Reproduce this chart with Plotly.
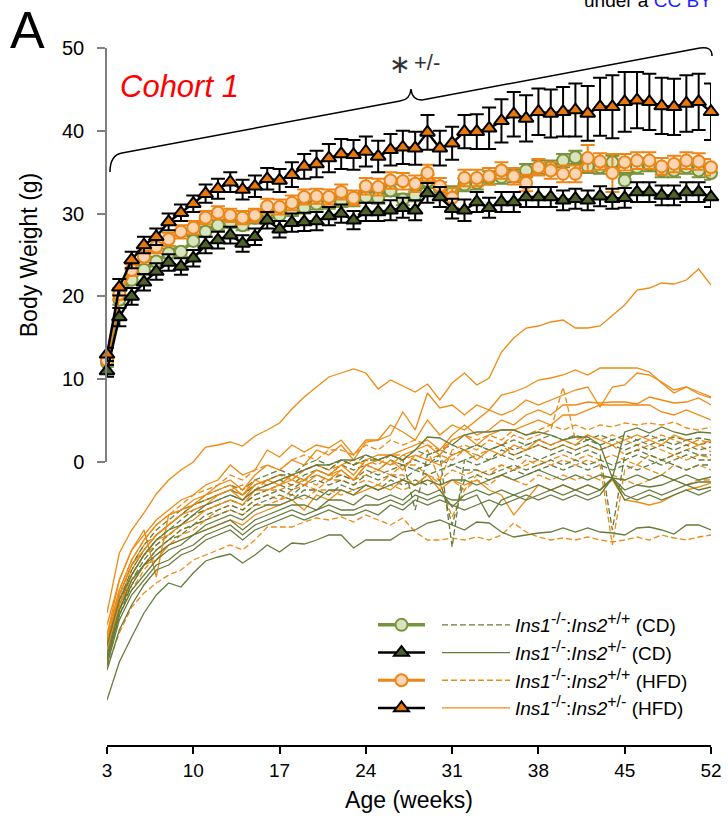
import plotly.graph_objects as go

# ---------------- data ----------------
weeks = list(range(3, 53))
x_ticks = [3, 10, 17, 24, 31, 38, 45, 52]
y_ticks = [0, 10, 20, 30, 40, 50]

# group means (g) and SEM
cd_wt_mean = [12.0, 19.6, 22.0, 23.2, 24.2, 25.2, 25.4, 26.7, 27.8, 28.6,
              28.9, 28.6, 29.5, 30.2, 29.8, 30.4, 30.7, 31.2, 31.3, 31.5,
              31.6, 32.0, 31.9, 32.8, 31.7, 32.2, 33.9, 33.0, 32.5, 33.5,
              33.7, 34.3, 34.4, 34.6, 35.2, 35.6, 35.6, 36.4, 36.8, 35.7,
              35.6, 36.2, 34.0, 35.6, 35.9, 35.2, 35.2, 35.6, 35.2, 34.9]
cd_wt_sem = [0.5, 0.6, 0.6, 0.6, 0.6, 0.6, 0.6, 0.6, 0.6, 0.6,
             0.6, 0.6, 0.7, 0.7, 0.7, 0.7, 0.7, 0.7, 0.7, 0.7,
             0.7, 0.7, 0.7, 0.7, 0.7, 0.7, 0.8, 0.8, 0.8, 0.8,
             0.8, 0.8, 0.8, 0.8, 0.8, 0.8, 0.8, 0.8, 0.8, 0.8,
             0.8, 0.8, 0.9, 0.8, 0.8, 0.8, 0.8, 0.8, 0.8, 0.8]

cd_het_mean = [11.0, 17.5, 20.0, 21.7, 23.0, 24.1, 23.6, 24.6, 26.2, 26.8,
               27.4, 26.4, 27.2, 29.2, 28.1, 28.9, 29.0, 29.1, 29.7, 30.0,
               29.2, 30.2, 30.2, 30.4, 30.7, 30.4, 32.5, 32.0, 30.6, 30.4,
               31.4, 30.7, 31.4, 31.4, 32.0, 32.0, 32.0, 31.6, 31.8, 31.6,
               32.1, 31.8, 31.9, 32.6, 32.6, 32.2, 32.2, 32.6, 32.6, 32.0]
cd_het_sem = [0.7, 1.1, 1.0, 1.0, 1.0, 1.0, 1.0, 1.0, 1.0, 1.0,
              1.0, 1.0, 1.0, 1.0, 1.0, 1.1, 1.1, 1.1, 1.1, 1.1,
              1.1, 1.1, 1.1, 1.2, 1.2, 1.2, 1.2, 1.2, 1.2, 1.3,
              1.2, 1.2, 1.2, 1.2, 1.2, 1.2, 1.2, 1.2, 1.2, 1.2,
              1.2, 1.2, 1.2, 1.2, 1.2, 1.2, 1.2, 1.2, 1.2, 1.2]

hfd_wt_mean = [12.3, 20.3, 23.2, 24.8, 26.0, 26.9, 27.8, 28.3, 29.5, 30.1,
               29.8, 29.5, 29.8, 30.9, 30.8, 31.3, 32.0, 32.1, 32.0, 32.6,
               31.9, 33.3, 33.2, 34.0, 33.9, 33.6, 34.9, 33.3, 31.9, 34.3,
               34.3, 34.5, 35.2, 34.5, 33.7, 35.6, 35.2, 34.8, 34.8, 36.7,
               36.3, 34.9, 36.2, 36.4, 36.4, 35.7, 36.0, 36.4, 36.3, 35.6]
hfd_wt_sem = [0.5, 0.7, 0.7, 0.7, 0.8, 0.8, 0.8, 0.8, 0.8, 0.8,
              0.8, 0.8, 0.8, 0.9, 0.9, 0.9, 0.9, 0.9, 0.9, 0.9,
              0.9, 1.0, 1.0, 1.0, 1.0, 1.0, 1.0, 1.0, 1.2, 1.0,
              1.0, 1.0, 1.0, 1.0, 1.0, 1.0, 1.0, 1.0, 1.0, 1.6,
              1.0, 2.3, 1.0, 1.0, 1.0, 1.0, 1.0, 1.0, 1.0, 1.0]

hfd_het_mean = [13.0, 21.1, 24.4, 26.2, 27.2, 29.0, 30.1, 31.2, 32.4, 33.0,
                33.8, 32.9, 33.3, 34.2, 34.0, 34.7, 35.7, 36.0, 36.7, 37.2,
                37.1, 37.5, 36.9, 37.7, 38.0, 37.9, 39.8, 37.9, 38.5, 39.9,
                39.9, 40.3, 41.2, 42.0, 41.5, 42.3, 42.1, 42.3, 42.5, 42.1,
                42.9, 42.9, 43.5, 43.7, 43.5, 43.0, 42.9, 43.3, 43.5, 42.3]
hfd_het_sem = [0.8, 1.0, 1.0, 1.0, 1.0, 1.0, 1.0, 1.0, 1.1, 1.2,
               1.2, 1.2, 1.3, 1.3, 1.4, 1.5, 1.5, 1.6, 1.7, 1.8,
               1.8, 1.8, 1.9, 1.9, 2.0, 2.0, 2.1, 2.1, 2.0, 2.0,
               2.1, 2.5, 2.6, 2.7, 2.8, 2.8, 2.9, 3.0, 3.2, 3.3,
               3.5, 3.8, 3.6, 3.4, 3.4, 3.4, 3.4, 3.4, 3.4, 3.4]

# individual mice (g) -- HFD Ins2+/- (solid orange)
hfd_het_m1 = [19.7, 25.7, 28.0, 29.7, 31.6, 33.0, 34.0, 34.8, 36.3, 36.5, 36.8, 36.4, 37.4, 38.0, 38.7, 40.1, 41.3, 42.3, 43.3, 43.7, 44.1, 43.7, 42.1, 43.0, 42.4, 41.8, 42.6, 41.0, 42.7, 43.7, 42.5, 43.2, 45.8, 47.2, 48.2, 48.4, 48.8, 49.0, 48.2, 48.2, 48.4, 49.5, 50.5, 52.0, 52.2, 52.7, 52.6, 53.0, 54.1, 52.5]
hfd_het_m2 = [18.5, 23.0, 26.0, 27.5, 29.0, 30.0, 31.0, 31.5, 32.5, 33.0, 34.5, 33.5, 34.0, 36.0, 35.3, 36.5, 35.8, 36.5, 36.2, 37.0, 35.5, 37.0, 37.0, 38.5, 37.8, 37.0, 39.0, 37.5, 38.5, 38.0, 39.0, 40.0, 41.5, 41.8, 42.3, 43.0, 43.2, 43.5, 44.0, 43.5, 44.2, 44.2, 44.2, 44.2, 43.8, 42.7, 41.7, 42.3, 41.8, 41.3]
hfd_het_m3 = [17.5, 22.0, 25.0, 27.0, 28.5, 29.5, 30.0, 31.0, 31.5, 32.5, 33.0, 32.0, 33.5, 34.5, 34.0, 35.0, 34.5, 36.0, 35.5, 36.5, 35.0, 36.8, 37.0, 37.5, 39.8, 38.0, 41.7, 40.2, 40.5, 39.5, 40.5, 40.0, 39.5, 40.0, 41.0, 40.5, 41.0, 41.5, 42.0, 42.3, 40.3, 42.3, 42.5, 43.7, 43.5, 42.8, 42.0, 42.3, 41.6, 41.2]
hfd_het_m4 = [17.0, 21.5, 24.5, 26.0, 27.5, 28.5, 29.5, 30.0, 30.5, 31.5, 32.0, 31.0, 32.5, 33.0, 32.5, 33.5, 33.0, 34.0, 33.5, 34.5, 33.5, 35.0, 35.5, 35.5, 36.0, 36.5, 37.0, 36.0, 37.5, 38.5, 37.5, 38.0, 39.0, 38.5, 39.5, 40.0, 39.5, 40.5, 40.5, 40.8, 40.7, 40.8, 40.8, 40.6, 41.3, 41.0, 40.7, 40.8, 41.2, 40.5]
hfd_het_m5 = [16.5, 21.0, 23.5, 25.5, 27.0, 27.5, 28.5, 29.0, 30.0, 30.5, 31.0, 30.5, 32.0, 32.0, 32.5, 33.0, 32.5, 33.5, 33.0, 34.0, 33.0, 34.5, 35.0, 34.5, 35.5, 36.0, 36.5, 35.5, 37.0, 37.5, 36.5, 37.5, 38.0, 38.0, 38.5, 39.0, 38.5, 39.5, 39.5, 40.0, 40.5, 40.5, 40.5, 40.5, 40.5, 39.8, 39.5, 40.0, 39.5, 39.0]
hfd_het_m6 = [16.0, 20.5, 23.0, 24.5, 25.0, 26.5, 27.0, 27.5, 28.0, 28.5, 29.0, 28.5, 29.5, 30.0, 30.5, 31.0, 30.0, 31.5, 31.0, 32.0, 31.5, 32.0, 32.5, 32.0, 33.0, 32.5, 33.5, 32.0, 33.0, 32.5, 33.0, 32.0, 31.5, 29.5, 31.0, 32.5, 32.0, 32.5, 32.0, 32.5, 32.0, 33.0, 31.0, 30.8, 30.5, 30.8, 31.5, 32.0, 32.3, 32.7]
hfd_het_m7 = [17.5, 23.0, 26.0, 28.0, 23.3, 29.5, 30.0, 30.5, 31.5, 32.0, 32.5, 31.5, 33.0, 32.5, 33.0, 33.5, 33.0, 34.0, 33.5, 34.0, 33.0, 34.5, 34.0, 35.0, 34.0, 35.5, 35.0, 34.5, 35.5, 36.0, 35.0, 36.0, 35.5, 36.5, 36.0, 37.0, 36.5, 37.0, 36.5, 37.5, 37.0, 36.5, 37.0, 37.5, 37.0, 36.5, 37.5, 37.0, 36.5, 37.0]

# HFD Ins2+/+ (dashed orange)
hfd_wt_m1 = [17.0, 22.0, 25.0, 27.0, 28.5, 29.5, 30.5, 31.5, 32.0, 32.5, 33.5, 33.0, 34.0, 34.5, 34.0, 35.0, 35.5, 35.0, 36.0, 36.0, 35.5, 36.5, 36.0, 37.0, 36.5, 37.0, 36.5, 36.0, 37.0, 37.5, 37.0, 37.5, 37.0, 38.0, 37.5, 38.0, 38.5, 38.0, 38.5, 38.0, 38.5, 38.3, 38.7, 38.5, 38.7, 38.5, 38.8, 38.2, 38.0, 38.3]
hfd_wt_m2 = [16.5, 21.0, 24.0, 26.0, 27.5, 28.5, 29.5, 30.5, 31.0, 31.5, 32.0, 31.5, 32.5, 33.0, 33.5, 33.0, 34.0, 34.5, 34.0, 35.0, 34.5, 35.0, 34.5, 35.5, 35.5, 35.0, 36.0, 33.0, 36.0, 36.5, 36.0, 37.0, 36.5, 37.5, 37.0, 37.5, 38.0, 42.3, 37.0, 37.5, 37.0, 37.5, 37.0, 36.5, 37.0, 37.5, 37.0, 36.5, 37.0, 36.7]
hfd_wt_m3 = [16.0, 20.5, 23.5, 25.5, 26.5, 27.5, 28.5, 29.5, 30.0, 30.5, 31.0, 30.5, 31.5, 32.0, 32.0, 32.5, 33.0, 32.5, 33.5, 33.5, 33.0, 33.5, 34.0, 33.5, 34.5, 34.5, 33.5, 32.7, 29.3, 32.0, 33.5, 34.0, 34.5, 34.0, 35.0, 34.5, 35.0, 35.5, 35.0, 35.5, 35.0, 35.5, 35.0, 34.5, 35.5, 35.0, 35.5, 35.0, 35.5, 35.2]
hfd_wt_m4 = [15.5, 20.0, 22.5, 24.5, 26.0, 27.0, 28.0, 28.5, 29.0, 30.0, 30.5, 30.0, 31.0, 31.5, 31.0, 32.0, 32.5, 32.0, 33.0, 33.0, 32.5, 33.0, 32.5, 33.5, 33.5, 32.5, 33.5, 33.0, 34.0, 33.5, 34.0, 33.5, 34.5, 34.0, 34.5, 35.0, 34.5, 35.0, 34.5, 35.0, 34.5, 26.5, 34.0, 34.5, 34.0, 33.5, 34.5, 34.0, 34.5, 34.0]
hfd_wt_m5 = [15.0, 19.5, 22.0, 24.0, 25.5, 26.5, 27.5, 28.0, 29.0, 29.5, 30.0, 29.5, 30.5, 30.5, 31.0, 31.5, 31.0, 32.0, 32.0, 31.5, 32.0, 32.5, 32.0, 32.5, 32.0, 32.5, 33.0, 32.5, 33.0, 32.0, 33.0, 32.5, 33.5, 33.0, 32.5, 33.5, 33.0, 33.5, 33.0, 33.5, 33.0, 33.5, 33.0, 32.5, 33.0, 33.5, 33.0, 32.5, 33.0, 33.0]
hfd_wt_m6 = [14.3, 17.7, 20.3, 21.7, 22.7, 23.5, 24.0, 25.0, 25.5, 26.0, 26.5, 26.0, 27.0, 28.3, 28.3, 28.3, 28.8, 29.2, 29.0, 29.3, 28.8, 29.5, 29.0, 28.5, 29.2, 27.8, 27.0, 27.0, 27.2, 27.0, 27.3, 27.0, 27.5, 28.7, 27.8, 27.3, 27.0, 27.2, 27.0, 27.3, 27.0, 26.8, 27.0, 27.3, 27.0, 27.5, 27.2, 27.0, 27.3, 27.5]
hfd_wt_m7 = [16.8, 21.5, 24.5, 26.5, 27.5, 28.5, 29.5, 30.5, 31.0, 31.5, 32.0, 32.5, 32.0, 33.0, 33.5, 33.0, 34.0, 34.5, 34.0, 34.5, 35.0, 34.5, 35.0, 34.5, 35.0, 35.5, 35.0, 35.5, 35.0, 36.0, 35.5, 36.0, 36.5, 35.5, 36.0, 36.5, 36.0, 36.5, 36.0, 36.5, 36.0, 36.5, 35.5, 36.0, 36.5, 36.0, 35.5, 36.0, 36.5, 35.8]

# CD Ins2+/- (solid green)
cd_het_m1 = [11.0, 14.8, 17.3, 19.7, 21.5, 22.7, 22.3, 23.7, 24.9, 25.3, 25.6, 24.7, 25.5, 26.5, 25.8, 26.7, 26.6, 27.0, 27.5, 27.5, 26.2, 27.0, 27.0, 27.0, 27.8, 28.0, 28.7, 29.0, 28.5, 28.0, 28.8, 28.7, 27.8, 27.3, 27.5, 27.7, 27.8, 28.2, 27.8, 28.2, 27.8, 27.7, 27.5, 28.2, 28.3, 28.0, 27.6, 28.5, 28.5, 28.0]
cd_het_m2 = [16.5, 21.0, 23.5, 25.5, 27.0, 28.0, 28.5, 29.5, 30.5, 31.0, 31.5, 31.0, 32.0, 32.5, 33.0, 33.5, 34.0, 34.5, 34.5, 35.0, 35.0, 35.5, 35.0, 35.5, 35.0, 36.0, 37.3, 37.2, 36.5, 37.5, 37.8, 37.8, 38.0, 38.0, 37.5, 37.8, 37.5, 37.0, 37.3, 37.3, 36.5, 33.2, 37.8, 38.2, 37.7, 38.3, 37.8, 37.5, 37.8, 37.7]
cd_het_m3 = [15.5, 20.0, 23.0, 24.5, 25.5, 26.5, 27.0, 27.5, 28.5, 29.0, 29.5, 29.0, 30.0, 30.5, 30.5, 31.0, 31.5, 31.0, 32.0, 32.0, 31.5, 32.5, 32.0, 32.5, 33.0, 32.5, 33.0, 32.5, 33.0, 33.0, 32.5, 33.0, 33.5, 33.0, 33.5, 34.0, 33.5, 33.0, 33.5, 33.0, 33.5, 33.2, 33.0, 33.5, 33.0, 33.5, 33.0, 33.5, 33.0, 33.3]
cd_het_m4 = [15.0, 19.5, 22.0, 23.5, 25.0, 26.0, 26.5, 27.5, 28.0, 28.5, 29.0, 28.0, 29.0, 29.5, 30.0, 30.5, 30.5, 30.0, 31.0, 31.0, 30.5, 31.5, 31.0, 31.5, 31.0, 32.0, 31.5, 32.0, 30.3, 31.5, 32.0, 31.5, 32.0, 31.5, 32.0, 32.5, 32.0, 32.5, 32.0, 32.5, 32.0, 33.2, 32.0, 32.5, 32.3, 32.5, 33.0, 32.5, 32.8, 32.8]
cd_het_m5 = [14.5, 19.0, 21.5, 23.0, 24.5, 25.0, 26.0, 26.5, 27.5, 28.0, 28.5, 27.5, 28.5, 29.0, 29.5, 30.0, 29.5, 30.0, 30.5, 30.0, 30.0, 30.5, 30.5, 31.0, 30.5, 31.5, 31.0, 31.5, 31.0, 31.0, 31.5, 29.3, 31.0, 31.5, 31.0, 31.5, 32.0, 31.5, 32.0, 31.5, 32.0, 33.2, 31.0, 31.5, 32.0, 31.5, 32.0, 32.5, 32.0, 32.3]
cd_het_m6 = [14.0, 18.0, 20.5, 22.5, 24.0, 24.5, 25.5, 26.0, 27.0, 27.5, 28.0, 27.0, 28.0, 28.5, 29.0, 29.5, 29.0, 29.5, 30.0, 29.5, 29.5, 30.0, 29.5, 30.5, 30.0, 31.0, 30.5, 31.0, 30.5, 30.0, 30.5, 31.0, 30.5, 31.0, 31.5, 31.0, 31.5, 31.0, 31.5, 31.0, 31.5, 33.2, 31.5, 31.0, 31.5, 31.0, 31.5, 32.0, 31.5, 32.0]

# CD Ins2+/+ (dashed green)
cd_wt_m1 = [16.0, 21.0, 24.0, 26.0, 27.5, 28.5, 29.5, 30.5, 31.0, 31.5, 32.0, 31.5, 32.5, 33.0, 33.5, 33.5, 34.0, 34.5, 34.0, 35.0, 34.5, 35.0, 35.0, 35.5, 35.0, 36.0, 35.5, 36.0, 36.5, 36.0, 36.5, 36.0, 36.5, 37.0, 36.5, 37.0, 37.5, 37.0, 37.5, 37.0, 37.5, 37.0, 37.5, 37.0, 37.5, 37.0, 37.3, 37.0, 37.2, 37.0]
cd_wt_m2 = [15.5, 20.5, 23.5, 25.5, 27.0, 28.0, 29.0, 30.0, 30.5, 31.0, 31.5, 31.0, 32.0, 32.5, 33.0, 32.5, 33.5, 34.0, 33.5, 34.5, 34.0, 34.5, 34.0, 35.0, 34.5, 35.0, 34.5, 35.5, 26.3, 35.0, 35.5, 35.0, 36.0, 35.5, 36.0, 36.5, 36.0, 36.5, 36.0, 36.5, 36.0, 36.5, 36.0, 36.5, 36.0, 36.5, 36.0, 36.5, 36.0, 36.3]
cd_wt_m3 = [15.0, 20.0, 23.0, 25.0, 26.5, 27.5, 28.5, 29.5, 30.0, 30.5, 31.0, 30.5, 31.5, 32.0, 32.5, 32.0, 33.0, 33.5, 33.0, 33.5, 33.0, 34.0, 33.5, 34.0, 34.5, 34.0, 34.5, 35.0, 34.5, 35.0, 34.5, 35.0, 35.5, 35.0, 35.5, 35.0, 35.5, 36.0, 35.5, 36.0, 35.5, 28.0, 35.5, 36.0, 35.5, 35.0, 35.5, 36.0, 35.5, 35.5]
cd_wt_m4 = [14.5, 19.5, 22.5, 24.5, 26.0, 27.0, 28.0, 28.5, 29.5, 30.0, 30.5, 30.0, 31.0, 31.5, 32.0, 31.5, 32.5, 33.0, 32.5, 33.0, 32.5, 33.5, 33.0, 33.5, 33.0, 34.0, 33.5, 34.0, 34.5, 34.0, 34.0, 33.5, 34.0, 34.5, 34.0, 34.5, 35.0, 34.5, 35.0, 34.5, 35.0, 34.5, 35.0, 35.5, 35.0, 34.5, 35.0, 35.5, 35.0, 35.0]
cd_wt_m5 = [16.5, 21.5, 24.5, 26.5, 28.0, 29.0, 30.0, 30.5, 31.5, 32.0, 32.5, 32.0, 33.0, 33.5, 34.0, 33.5, 34.5, 35.0, 34.5, 35.0, 34.5, 35.5, 35.0, 35.5, 35.0, 30.0, 35.5, 36.0, 35.5, 36.0, 36.5, 36.0, 36.5, 36.0, 36.5, 37.0, 36.5, 37.0, 36.5, 37.0, 36.5, 37.0, 36.5, 37.0, 36.5, 37.0, 36.5, 37.0, 36.5, 36.8]
cd_wt_m6 = [15.0, 20.0, 22.5, 24.5, 26.0, 27.0, 27.5, 28.5, 29.0, 29.5, 30.0, 29.5, 30.5, 31.0, 31.5, 31.0, 32.0, 32.0, 31.5, 32.5, 32.0, 32.5, 32.0, 33.0, 32.5, 33.0, 32.5, 33.0, 28.5, 33.0, 33.5, 33.0, 33.5, 34.0, 33.5, 34.0, 34.5, 34.0, 34.5, 34.0, 34.5, 34.0, 34.5, 34.0, 34.5, 35.0, 34.5, 34.0, 34.5, 34.5]

hfd_het_mice = [hfd_het_m1, hfd_het_m2, hfd_het_m3, hfd_het_m4, hfd_het_m5, hfd_het_m6, hfd_het_m7]
hfd_wt_mice = [hfd_wt_m1, hfd_wt_m2, hfd_wt_m3, hfd_wt_m4, hfd_wt_m5, hfd_wt_m6, hfd_wt_m7]
cd_het_mice = [cd_het_m1, cd_het_m2, cd_het_m3, cd_het_m4, cd_het_m5, cd_het_m6]
cd_wt_mice = [cd_wt_m1, cd_wt_m2, cd_wt_m3, cd_wt_m4, cd_wt_m5, cd_wt_m6]

SUP = "<sup><span style='font-size:16px'>{}</span></sup>"
labels = ["<i>Ins1</i>" + SUP.format("-/-") + ":<i>Ins2</i>" + SUP.format("+/+") + " (CD)",
          "<i>Ins1</i>" + SUP.format("-/-") + ":<i>Ins2</i>" + SUP.format("+/-") + " (CD)",
          "<i>Ins1</i>" + SUP.format("-/-") + ":<i>Ins2</i>" + SUP.format("+/+") + " (HFD)",
          "<i>Ins1</i>" + SUP.format("-/-") + ":<i>Ins2</i>" + SUP.format("+/-") + " (HFD)"]

# ---------------- styling ----------------
OLIVE = "#77933C"
SPAG_GREEN = "#667C3A"
SPAG_ORANGE = "#F08A12"
ORANGE = "#EE8514"
TRI_ORANGE = "#E8780A"
TRI_GREEN = "#4F6228"
LIGHT_GREEN = "#D7E4BD"
PEACH = "#FCD5B5"
FONT = "Liberation Sans, Arial, sans-serif"

W, H = 728, 821
L, R, T, B = 107, 17, 48, 76
PW, PH = W - L - R, H - T - B


def paper(px, py):
    return (px - L) / PW, (H - B - py) / PH


fig = go.Figure()


def add_spaghetti(mice, color, dash, name, rank):
    for i, m in enumerate(mice):
        fig.add_trace(go.Scatter(
            x=weeks, y=m, mode="lines", yaxis="y2",
            line=dict(color=color, width=1.3, dash=dash),
            hoverinfo="skip", name=name, legendgroup="g" + str(rank),
            legend="legend2", legendrank=rank, showlegend=(i == 0)))


add_spaghetti(hfd_wt_mice, SPAG_ORANGE, "6px,3px", labels[2], 3)
add_spaghetti(cd_wt_mice, SPAG_GREEN, "6px,3px", labels[0], 1)
add_spaghetti(hfd_het_mice, SPAG_ORANGE, "solid", labels[3], 4)
add_spaghetti(cd_het_mice, SPAG_GREEN, "solid", labels[1], 2)


def add_mean(mean, sem, lcolor, lwidth, symbol, size, fill, outline, ecolor, rank):
    fig.add_trace(go.Scatter(
        x=weeks, y=mean, mode="lines+markers", yaxis="y",
        line=dict(color=lcolor, width=lwidth),
        marker=dict(symbol=symbol, size=size, color=fill, line=dict(color=outline, width=2)),
        error_y=dict(type="data", array=sem, color=ecolor, thickness=2, width=7),
        cliponaxis=False, name="\u00a0", legend="legend", legendrank=rank,
        showlegend=True, hoverinfo="skip"))


add_mean(cd_wt_mean, cd_wt_sem, OLIVE, 3.5, "circle", 12, LIGHT_GREEN, OLIVE, OLIVE, 1)
add_mean(hfd_wt_mean, hfd_wt_sem, ORANGE, 3, "circle", 12, PEACH, ORANGE, ORANGE, 3)
add_mean(cd_het_mean, cd_het_sem, "black", 2.5, "triangle-up", 13, TRI_GREEN, "black", "black", 2)
add_mean(hfd_het_mean, hfd_het_sem, "black", 2.5, "triangle-up", 13, TRI_ORANGE, "black", "black", 4)

# bracket over the curves
pts = [(110, 172), (110, 155), (122, 153), (400, 101), (410, 100), (411, 89),
       (412, 100), (422, 100), (700, 48), (712, 46), (712, 56)]
pp = [paper(a, b) for a, b in pts]
path = ("M {0[0]},{0[1]} Q {1[0]},{1[1]} {2[0]},{2[1]} L {3[0]},{3[1]} "
        "Q {4[0]},{4[1]} {5[0]},{5[1]} Q {6[0]},{6[1]} {7[0]},{7[1]} "
        "L {8[0]},{8[1]} Q {9[0]},{9[1]} {10[0]},{10[1]}").format(*pp)
fig.add_shape(type="path", path=path, xref="paper", yref="paper",
              line=dict(color="black", width=1.5))


def ann(text, px, py, xa, ya, size, color="black", **kw):
    x, y = paper(px, py)
    fig.add_annotation(text=text, x=x, y=y, xref="paper", yref="paper",
                       xanchor=xa, yanchor=ya, showarrow=False,
                       font=dict(size=size, color=color, family=FONT), **kw)


ann("A", 27, 30, "center", "middle", 52)
ann("<i>Cohort 1</i>", 118, 86, "left", "middle", 31, "#FF0000")
ann("\u2217", 412, 64, "right", "middle", 26, "#333333", borderpad=0)
ann("+/-", 413, 63, "left", "middle", 22, "#333333", borderpad=0)
ann("under a <span style='color:#1F1FFF'>CC BY</span>", 582, 13, "left", "bottom", 19)

lx1, ly = paper(373, 606)
lx2, _ = paper(437, 606)

fig.update_layout(
    width=W, height=H,
    margin=dict(l=L, r=R, t=T, b=B, autoexpand=False),
    paper_bgcolor="white", plot_bgcolor="rgba(0,0,0,0)",
    font=dict(family=FONT, size=19, color="black"),
    xaxis=dict(domain=[0, 1], range=[3, 52], anchor="y2", tickvals=x_ticks,
               ticks="outside", ticklen=7, tickwidth=2, tickcolor="black",
               showline=True, linecolor="black", linewidth=2,
               showgrid=False, zeroline=False, automargin=False,
               tickfont=dict(size=19),
               title=dict(text="Age (weeks)", standoff=12)),
    yaxis=dict(domain=[(H - B - 462) / PH, 1], range=[0, 50], anchor="x",
               tickvals=y_ticks, ticks="outside", ticklen=8, tickwidth=1.5,
               tickcolor="#7F7F7F", showline=True, linecolor="#7F7F7F",
               linewidth=1.5, showgrid=False, zeroline=False, automargin=False,
               ticklabelstandoff=9, tickfont=dict(size=20),
               title=dict(text="Body Weight (g)", standoff=18)),
    yaxis2=dict(domain=[0, 1], range=[6.5, 76.2], anchor="x", visible=False),
    showlegend=True,
    legend=dict(x=lx1, y=ly, xanchor="left", yanchor="top", itemwidth=47,
                bgcolor="rgba(0,0,0,0)", font=dict(size=19),
                tracegroupgap=0, traceorder="normal"),
    legend2=dict(x=lx2, y=ly, xanchor="left", yanchor="top", itemwidth=68,
                 bgcolor="rgba(0,0,0,0)", font=dict(size=19),
                 tracegroupgap=0, traceorder="normal"),
)

fig.write_html("out.html")
